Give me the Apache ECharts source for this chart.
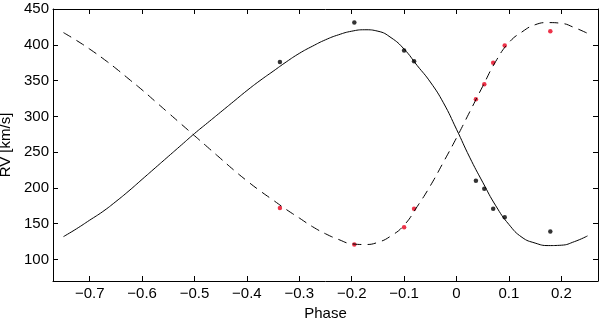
<!DOCTYPE html>
<html>
<head>
<meta charset="utf-8">
<script src="https://cdn.jsdelivr.net/npm/echarts@6/dist/echarts.min.js"></script>
<style>html,body{margin:0;padding:0;background:#fff;overflow:hidden}#c{width:600px;height:318px}</style>
</head>
<body>
<div id="c"></div>
<script>
// Model curve phases and values
const curvePhase = [-0.75,-0.725,-0.70,-0.675,-0.65,-0.625,-0.60,-0.575,-0.55,-0.525,-0.50,-0.475,-0.45,-0.425,-0.40,-0.375,-0.35,-0.325,-0.30,-0.275,-0.25,-0.225,-0.20,-0.175,-0.15,-0.125,-0.10,-0.075,-0.05,-0.025,0.00,0.025,0.05,0.075,0.10,0.125,0.15,0.175,0.20,0.225,0.25];
const primaryCurve = [132,143,155,167,181,196,212,228,244,260,276,291,306,321,336,350,363,376,388,398,407,414,419,421,419,410,394,371,348,319,282,243,208,175,149,131,123,119.5,120,125,133];
const secondaryCurve = [417,406,394,381,367,352,337,321,305,289,273,257,241,225,210,196,183,170,158,146,136,128,122,121,124,133,148,174,203,236,270,306,342,377,403,418,428,431,430,424,416];
// Observations
const obsPhase = [-0.337,-0.195,-0.100,-0.081,0.037,0.053,0.070,0.092,0.179];
const primaryRV = [376,431,392,377,210,199,171,159,139];
const secondaryRV = [172,121,145,171,324,345,375,399,419];
// Tick labels
const xTicks = [-0.7,-0.6,-0.5,-0.4,-0.3,-0.2,-0.1,0,0.1,0.2];
const yTicks = [100,150,200,250,300,350,400,450];

const pairs = (xs, ys) => xs.map((x, i) => [x, ys[i]]);
const fmt = v => String(Math.round(v * 10) / 10).replace('-', '\u2212');
const font = { fontFamily: 'Liberation Sans, Arial, sans-serif', fontSize: 15, color: '#000' };
const lineAxis = { show: true, onZero: false, lineStyle: { color: '#000', width: 1 } };
const tick = vals => ({ show: true, inside: true, length: 5, customValues: vals, lineStyle: { color: '#000', width: 1 } });

const chart = echarts.init(document.getElementById('c'), null, { renderer: 'canvas' });
chart.setOption({
  animation: false,
  backgroundColor: '#fff',
  grid: { left: 53, right: 2, top: 9, bottom: 37, containLabel: false, outerBoundsMode: 'none' },
  xAxis: [
    { type: 'value', min: -0.77, max: 0.27, position: 'bottom',
      axisLine: lineAxis, axisTick: tick(xTicks), splitLine: { show: false },
      axisLabel: Object.assign({ customValues: xTicks, margin: 5, formatter: fmt }, font),
      name: 'Phase', nameLocation: 'middle', nameGap: 18, nameTextStyle: font },
    { type: 'value', min: -0.77, max: 0.27, position: 'top',
      axisLine: lineAxis, axisTick: tick(xTicks), splitLine: { show: false },
      axisLabel: { show: false } }
  ],
  yAxis: [
    { type: 'value', min: 70, max: 450, position: 'left',
      axisLine: lineAxis, axisTick: tick(yTicks), splitLine: { show: false },
      axisLabel: Object.assign({ customValues: yTicks, margin: 4 }, font),
      name: 'RV [km/s]', nameLocation: 'middle', nameGap: 36, nameRotate: 90, nameTextStyle: font },
    { type: 'value', min: 70, max: 450, position: 'right',
      axisLine: lineAxis, axisTick: tick(yTicks), splitLine: { show: false },
      axisLabel: { show: false } }
  ],
  series: [
    { type: 'line', data: pairs(curvePhase, primaryCurve), smooth: 0.5, symbol: 'none',
      lineStyle: { color: '#000', width: 1 } },
    { type: 'line', data: pairs(curvePhase, secondaryCurve), smooth: 0.5, symbol: 'none',
      lineStyle: { color: '#000', width: 1, type: [9, 6] } },
    { type: 'scatter', data: pairs(obsPhase, primaryRV), symbol: 'circle', symbolSize: 4.5,
      itemStyle: { color: '#000' } },
    { type: 'scatter', data: pairs(obsPhase, secondaryRV), symbol: 'circle', symbolSize: 4.5,
      itemStyle: { color: '#e8001c' } }
  ]
});
</script>
</body>
</html>
